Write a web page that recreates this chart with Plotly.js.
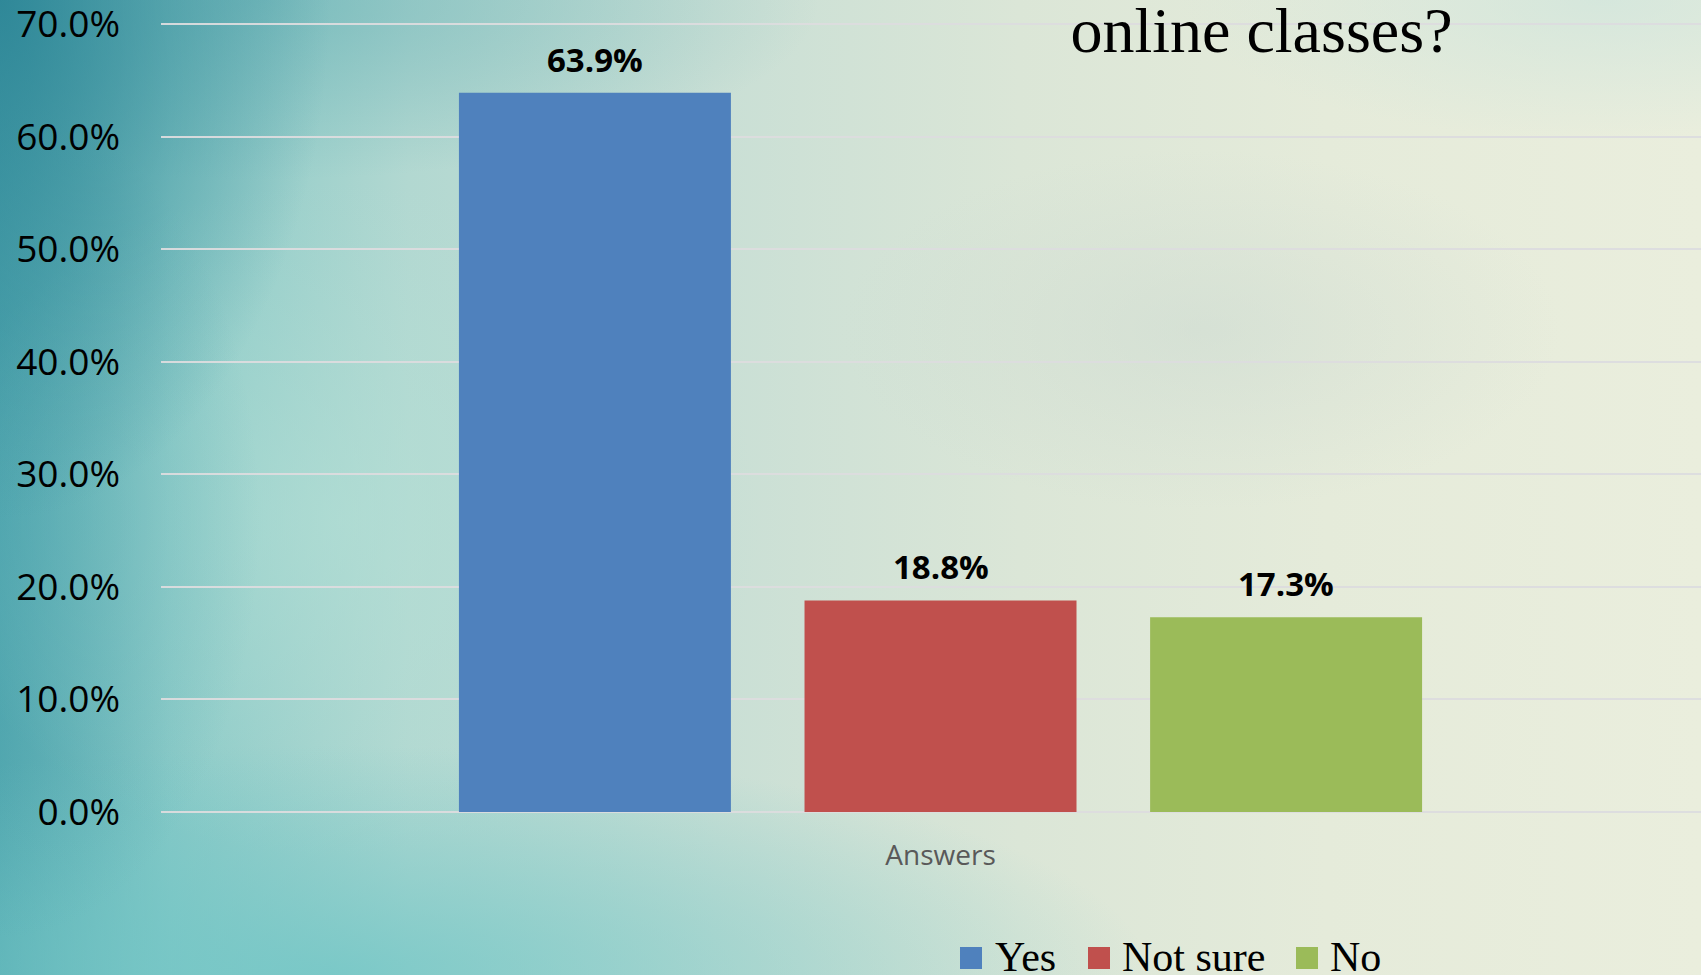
<!DOCTYPE html>
<html><head><meta charset="utf-8">
<script src="https://cdn.plot.ly/plotly-3.0.1.min.js"></script>
<style>
html,body{margin:0;padding:0;width:1701px;height:975px;overflow:hidden;}
#bg{position:absolute;left:0;top:0;width:1701px;height:975px;
background:
 radial-gradient(ellipse 330px 520px at 0px 0px, rgba(40,130,148,0.85), rgba(40,130,148,0) 100%),
 radial-gradient(ellipse 560px 180px at 260px 0px, rgba(95,172,178,0.55), rgba(95,172,178,0) 100%),
 radial-gradient(ellipse 260px 420px at 0px 520px, rgba(70,160,172,0.55), rgba(70,160,172,0) 100%),
 radial-gradient(ellipse 820px 230px at 330px 975px, rgba(112,198,198,0.8), rgba(112,198,198,0) 100%),
 radial-gradient(ellipse 420px 340px at 340px 520px, rgba(180,224,214,0.6), rgba(180,224,214,0) 100%),
 radial-gradient(ellipse 360px 180px at 1200px 330px, rgba(200,215,208,0.45), rgba(200,215,208,0) 100%),
 radial-gradient(ellipse 420px 140px at 1600px 0px, rgba(205,228,220,0.7), rgba(205,228,220,0) 100%),
 linear-gradient(90deg, #55a9b0 0%, #86c8c6 10%, #b2d8d1 24%, #c9dfd5 42%, #dbe6d7 60%, #e5ebda 78%, #eaeedd 100%);
}
#chart{position:absolute;left:0;top:0;width:1701px;height:975px;}
</style></head><body>
<div id="bg"></div><div id="chart"></div>
<script>
// ---- data ----
const categories = ['Answers'];
const seriesNames = ['Yes', 'Not sure', 'No'];
const yesValues = [0.639];
const notSureValues = [0.188];
const noValues = [0.173];
const yTickValues = [0, 0.1, 0.2, 0.3, 0.4, 0.5, 0.6, 0.7];
const titleText = 'online classes?';

// ---- styles ----
const seriesColors = ['#4f81bd', '#c0504d', '#9bbb59'];
const seriesValues = [yesValues, notSureValues, noValues];

const W = 1701, H = 975;
const M = {l: 161, r: 0, t: 23, b: 163};
const plotW = W - M.l - M.r, plotH = H - M.t - M.b;
const px2x = p => (p - M.l) / plotW;
const px2y = p => (H - M.b - p) / plotH;

const xRange = [-0.5, 0.4878];
const barGap = 0.335, barGroupGap = 0.213;

const traces = seriesNames.map((name, i) => ({
  type: 'bar',
  name: name,
  x: categories,
  y: seriesValues[i],
  marker: {color: seriesColors[i], line: {width: 0}},
  showlegend: false,
  hoverinfo: 'skip'
}));

// data labels: placed at each bar's value, offset to the bar's slot in the group
const pxPerUnit = plotW / (xRange[1] - xRange[0]);
const slotPx = (1 - barGap) * pxPerUnit / seriesNames.length;
const labelAnnotations = [];
seriesNames.forEach((name, i) => {
  categories.forEach((c, j) => {
    labelAnnotations.push({
      x: c, y: seriesValues[i][j], xref: 'x', yref: 'y',
      text: (seriesValues[i][j] * 100).toFixed(1) + '%',
      showarrow: false, xanchor: 'center', yanchor: 'bottom',
      xshift: (i - (seriesNames.length - 1) / 2) * slotPx,
      yshift: 9,
      font: {family: 'Open Sans', size: 33, color: '#000000', weight: 700}
    });
  });
});

// custom legend (swatches larger than plotly's fixed-size icons)
const legendSwatchX = [960, 1088, 1296];
const legendTextX = [993, 1120, 1328];
const shapes = seriesNames.map((n, i) => ({
  type: 'rect', xref: 'paper', yref: 'paper', layer: 'above',
  x0: px2x(legendSwatchX[i]), x1: px2x(legendSwatchX[i] + 22),
  y0: px2y(969), y1: px2y(947),
  fillcolor: seriesColors[i], line: {width: 0}
}));
const legendAnnotations = seriesNames.map((n, i) => ({
  text: n, xref: 'paper', yref: 'paper', showarrow: false,
  x: px2x(legendTextX[i]), xanchor: 'left',
  y: px2y(957), yanchor: 'middle',
  font: {family: 'Liberation Serif', size: 42, color: '#000000'}
}));

const layout = {
  width: W, height: H,
  margin: M,
  paper_bgcolor: 'rgba(0,0,0,0)',
  plot_bgcolor: 'rgba(0,0,0,0)',
  barmode: 'group',
  bargap: barGap,
  bargroupgap: barGroupGap,
  title: {
    text: titleText,
    font: {family: 'Liberation Serif', size: 64, color: '#000000'},
    xref: 'container', yref: 'container',
    x: 1261.5 / W, xanchor: 'center',
    y: 1 - 51.7 / H, yanchor: 'bottom'
  },
  xaxis: {
    type: 'category',
    range: xRange,
    showgrid: false, zeroline: false, showline: false,
    ticks: '',
    tickfont: {family: 'Open Sans', size: 28, color: '#595959'},
    ticklabelstandoff: 24,
    fixedrange: true
  },
  yaxis: {
    range: [0, 0.701],
    tickvals: yTickValues,
    tickformat: '.1%',
    showgrid: true, gridcolor: 'rgba(220,220,222,0.95)', gridwidth: 2,
    zeroline: true, zerolinecolor: 'rgba(220,220,222,0.95)', zerolinewidth: 2,
    showline: false, ticks: '',
    tickfont: {family: 'Open Sans', size: 37, color: '#000000'},
    ticklabelstandoff: 40,
    ticklabeloverflow: 'allow',
    fixedrange: true
  },
  showlegend: false,
  shapes: shapes,
  annotations: labelAnnotations.concat(legendAnnotations),
  font: {family: 'Open Sans'}
};

Plotly.newPlot('chart', traces, layout, {displayModeBar: false, staticPlot: true});
</script>
</body></html>
